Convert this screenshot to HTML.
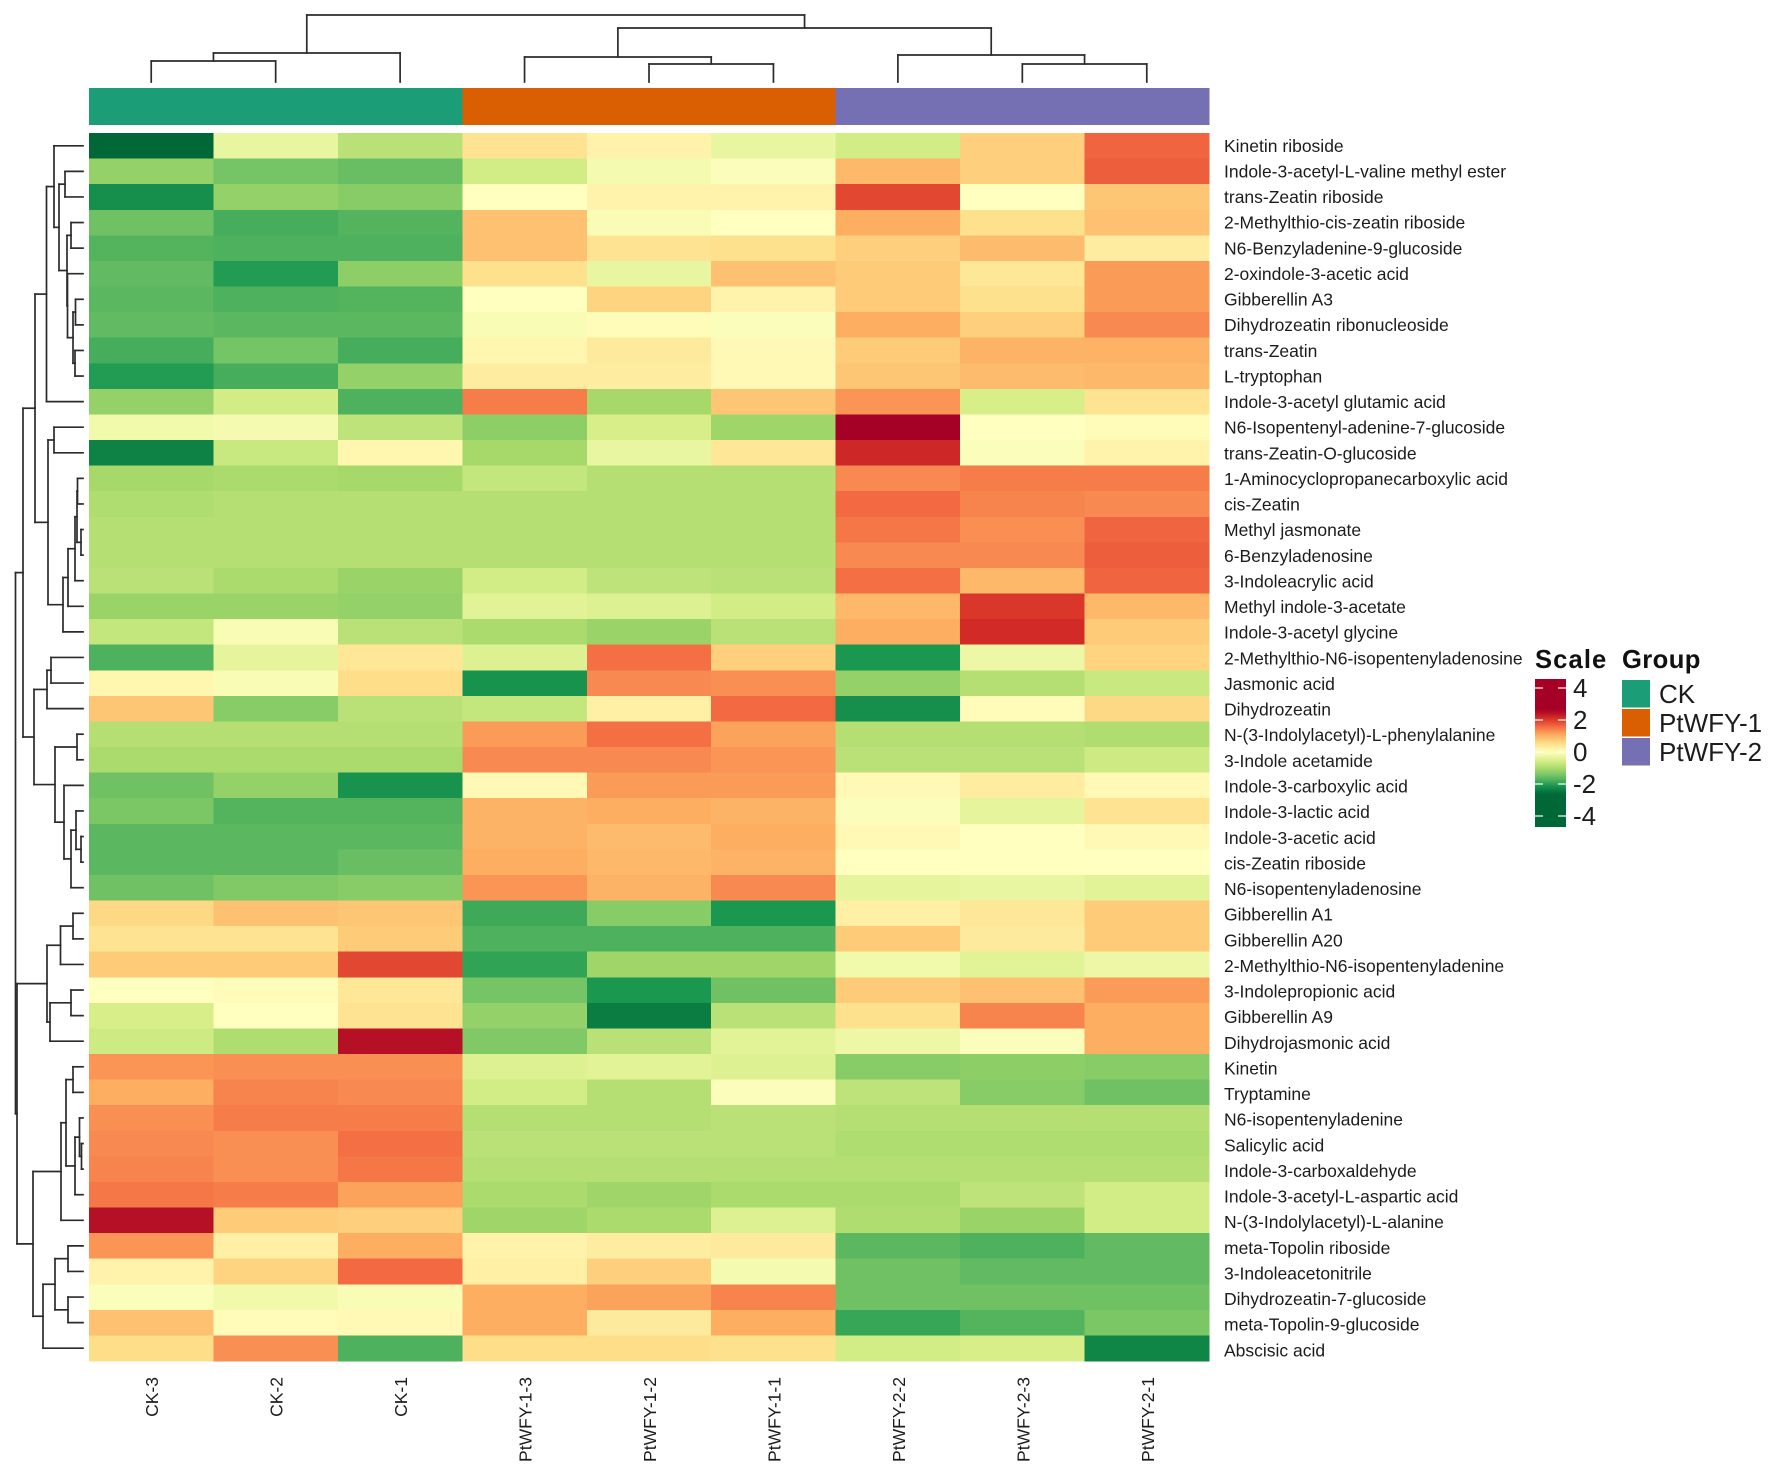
<!DOCTYPE html>
<html lang="en">
<head>
<meta charset="utf-8">
<title>Hormone metabolite clustered heatmap</title>
<style>
html,body{margin:0;padding:0;background:#fff;}
svg{display:block;font-family:"Liberation Sans",Arial,sans-serif;filter:blur(.3px);}
.cell-lab{font-size:17.5px;fill:#1c1c1c;}
.legend-title{font-size:25.6px;font-weight:700;fill:#111;}
.legend-text{font-size:26px;fill:#1c1c1c;}
</style>
</head>
<body>
<svg id="chart" xmlns="http://www.w3.org/2000/svg" width="1772" height="1474" viewBox="0 0 1772 1474">
  <rect x="0" y="0" width="1772" height="1474" fill="#ffffff"/>
  <g id="col-dendrogram"></g>
  <g id="row-dendrogram"></g>
  <g id="group-annotation"></g>
  <g id="heat-cells"></g>
  <g id="row-labels"></g>
  <g id="col-labels"></g>
  <g id="scale-legend">
    <text class="legend-title" x="1535" y="668" letter-spacing="1.1">Scale</text>
    <defs><linearGradient id="scale-gradient" x1="0" y1="0" x2="0" y2="1"></linearGradient></defs>
    <rect id="scale-bar" x="1535" y="679" width="31" height="148" fill="url(#scale-gradient)"/>
  </g>
  <g id="group-legend">
    <text class="legend-title" x="1622" y="668" letter-spacing=".4">Group</text>
  </g>
</svg>
<script>
// ---------- data ----------
const rowNames = ["Kinetin riboside","Indole-3-acetyl-L-valine methyl ester","trans-Zeatin riboside","2-Methylthio-cis-zeatin riboside","N6-Benzyladenine-9-glucoside","2-oxindole-3-acetic acid","Gibberellin A3","Dihydrozeatin ribonucleoside","trans-Zeatin","L-tryptophan","Indole-3-acetyl glutamic acid","N6-Isopentenyl-adenine-7-glucoside","trans-Zeatin-O-glucoside","1-Aminocyclopropanecarboxylic acid","cis-Zeatin","Methyl jasmonate","6-Benzyladenosine","3-Indoleacrylic acid","Methyl indole-3-acetate","Indole-3-acetyl glycine","2-Methylthio-N6-isopentenyladenosine","Jasmonic acid","Dihydrozeatin","N-(3-Indolylacetyl)-L-phenylalanine","3-Indole acetamide","Indole-3-carboxylic acid","Indole-3-lactic acid","Indole-3-acetic acid","cis-Zeatin riboside","N6-isopentenyladenosine","Gibberellin A1","Gibberellin A20","2-Methylthio-N6-isopentenyladenine","3-Indolepropionic acid","Gibberellin A9","Dihydrojasmonic acid","Kinetin","Tryptamine","N6-isopentenyladenine","Salicylic acid","Indole-3-carboxaldehyde","Indole-3-acetyl-L-aspartic acid","N-(3-Indolylacetyl)-L-alanine","meta-Topolin riboside","3-Indoleacetonitrile","Dihydrozeatin-7-glucoside","meta-Topolin-9-glucoside","Abscisic acid"];
const colNames = ["CK-3","CK-2","CK-1","PtWFY-1-3","PtWFY-1-2","PtWFY-1-1","PtWFY-2-2","PtWFY-2-3","PtWFY-2-1"];
const colGroups = ["CK","CK","CK","PtWFY-1","PtWFY-1","PtWFY-1","PtWFY-2","PtWFY-2","PtWFY-2"];
const groupNames = ["CK","PtWFY-1","PtWFY-2"];
const groupColors = ["#1b9e77","#d95f02","#7570b3"];
const scaleTicks = [4,2,0,-2,-4];
const heatValues = [
[-2.75,-.3,-.85,.45,.2,-.3,-.6,.7,1.65],
[-1.2,-1.45,-1.55,-.6,-.15,-.05,.95,.7,1.7],
[-2.2,-1.2,-1.3,0,.2,.2,1.9,0,.8],
[-1.5,-1.8,-1.7,.85,-.1,0,1.05,.5,.85],
[-1.7,-1.75,-1.75,.85,.45,.5,.7,.9,.3],
[-1.6,-2.05,-1.25,.5,-.3,.85,.75,.4,1.2],
[-1.65,-1.75,-1.7,0,.65,.2,.75,.5,1.2],
[-1.6,-1.65,-1.65,-.1,.05,-.05,1.05,.7,1.35],
[-1.8,-1.45,-1.8,.15,.35,.1,.75,1,1],
[-2.05,-1.8,-1.2,.3,.3,.1,.8,.9,.95],
[-1.2,-.6,-1.75,1.45,-1.05,.8,1.25,-.55,.45],
[-.2,-.15,-.8,-1.25,-.55,-1.1,2.75,0,.05],
[-2.35,-.7,.15,-1.05,-.3,.4,2.2,-.05,.2],
[-1.05,-1,-1.05,-.75,-.9,-.9,1.35,1.45,1.45],
[-.95,-.9,-.9,-.9,-.9,-.9,1.6,1.4,1.35],
[-.9,-.9,-.9,-.9,-.9,-.9,1.5,1.3,1.65],
[-.9,-.9,-.9,-.9,-.9,-.9,1.35,1.35,1.7],
[-.85,-1,-1.15,-.6,-.8,-.85,1.55,.95,1.65],
[-1.15,-1.15,-1.2,-.4,-.45,-.6,.95,2.05,.95],
[-.75,-.1,-.85,-1,-1.15,-.85,1.05,2.15,.75],
[-1.75,-.35,.4,-.45,1.55,.7,-2.1,-.25,.65],
[.15,-.1,.55,-2.15,1.35,1.3,-1.2,-.9,-.7],
[.8,-1.3,-.85,-.75,.25,1.6,-2.2,.05,.6],
[-.9,-.9,-.9,1.2,1.55,1.15,-.9,-.9,-.95],
[-1,-1,-1,1.35,1.35,1.25,-.85,-.85,-.65],
[-1.5,-1.2,-2.15,.1,1.2,1.2,.1,.3,.1],
[-1.4,-1.7,-1.7,1,1.05,1,-.05,-.35,.45],
[-1.65,-1.65,-1.65,1,.9,1.05,.1,0,.1],
[-1.65,-1.65,-1.55,1.05,.95,1,0,0,0],
[-1.5,-1.35,-1.3,1.25,1,1.35,-.35,-.3,-.4],
[.6,.85,.8,-1.85,-1.3,-2.1,.25,.4,.75],
[.45,.45,.75,-1.75,-1.75,-1.75,.75,.35,.75],
[.75,.75,1.9,-1.95,-1.1,-1.1,-.2,-.4,-.25],
[0,.05,.4,-1.45,-2.1,-1.5,.75,.85,1.2],
[-.55,0,.45,-1.2,-2.4,-.85,.5,1.4,1.05],
[-.65,-.95,2.45,-1.35,-.85,-.4,-.25,-.05,1.05],
[1.25,1.3,1.3,-.45,-.4,-.45,-1.3,-1.25,-1.3],
[1.05,1.4,1.35,-.6,-.9,-.05,-.8,-1.3,-1.5],
[1.3,1.45,1.45,-.9,-.9,-.85,-.9,-.9,-.9],
[1.35,1.3,1.55,-.85,-.85,-.85,-.95,-.95,-.95],
[1.4,1.3,1.5,-.9,-.9,-.9,-.9,-.9,-.9],
[1.5,1.45,1.15,-1,-1.1,-1,-1,-.8,-.6],
[2.45,.75,.7,-1.1,-1,-.45,-.95,-1.15,-.6],
[1.25,.25,1.05,.2,.3,.35,-1.65,-1.75,-1.6],
[.2,.65,1.6,.25,.7,-.15,-1.5,-1.6,-1.6],
[-.05,-.2,-.1,1.05,1.15,1.4,-1.5,-1.5,-1.5],
[.85,.05,.1,1.05,.35,1.05,-1.9,-1.7,-1.4],
[.55,1.3,-1.75,.55,.55,.5,-.6,-.55,-2.3]
];
// Trees: [mergeHeight, childA, childB]; a bare number is a leaf index.
const colTree = [67,[29,[21,0,1],2],[54,[25,3,[18,4,5]],[27,6,[18,7,8]]]];
const rowTree = [67.5,
  [60,
    [48,
      [36.5,[29,0,[24,[18,1,2],[16,[12,3,4],[15.5,5,[10,[7.5,6,7],[8,8,9]]]]]],10],
      [35,[29,11,12],[20,[15,[8,[6,[5.5,13,14],[2,15,16]],17],18],19]]
    ],
    [49,
      [36,[32,20,21],22],
      [28,[6,23,24],[19,25,[12,[7,26,[2,27,28]],29]]]
    ]
  ],
  [66,
    [36,[22.5,[10,30,31],32],[33,[12,33,34],35]],
    [50,
      [22,[17,[10,36,37],[8,[3.5,38,[1.5,39,40]],41]],42],
      [40,[28,[15,43,44],[15,45,46]],47]
    ]
  ]
];
// Colour stops of the palette, one every 0.525 units
const paletteStops = ["#006837","#1a9850","#66bd63","#a6d96a","#d9ef8b","#ffffbf","#fee08b","#fdae61","#f46d43","#d73027","#a50026"];

// ---------- layout & scales ----------
const NS = "http://www.w3.org/2000/svg";
const plot = {left: 89, right: 1209, top: 133, bottom: 1361};
const cellW = (plot.right - plot.left) / colNames.length;
const cellH = (plot.bottom - plot.top) / rowNames.length;
const xOf = i => plot.left + cellW * i;
const yOf = i => plot.top + cellH * i;
const colBaseY = 82;
const rowBaseX = 83;
const legendY = v => 752 - v * 16;

function hexToRgb(h){return [1,3,5].map(i=>parseInt(h.substr(i,2),16));}
function colorOf(v){
  const t = Math.max(0, Math.min(paletteStops.length - 1, (v + 2.625) / 0.525));
  const i = Math.min(paletteStops.length - 2, Math.floor(t));
  const a = hexToRgb(paletteStops[i]), b = hexToRgb(paletteStops[i + 1]), f = t - i;
  return "rgb(" + a.map((c,k)=>Math.round(c + (b[k] - c) * f)).join(",") + ")";
}
function svgEl(tag, attrs, parent){
  const el = document.createElementNS(NS, tag);
  for (const k in attrs) el.setAttribute(k, attrs[k]);
  parent.appendChild(el);
  return el;
}

// ---------- heatmap cells ----------
const cellsG = document.getElementById("heat-cells");
heatValues.forEach((row, r) => {
  row.forEach((v, c) => {
    const rect = svgEl("rect", {x: xOf(c), y: yOf(r), width: cellW + 0.5, height: cellH + 0.5, fill: colorOf(v), "shape-rendering": "crispEdges"}, cellsG);
    
    
  });
});

// ---------- group annotation ----------
const annG = document.getElementById("group-annotation");
colGroups.forEach((g, c) => {
  const rect = svgEl("rect", {x: xOf(c), y: 88, width: cellW + 0.5, height: 37, fill: groupColors[groupNames.indexOf(g)], "shape-rendering": "crispEdges"}, annG);
  
  
});

// ---------- labels ----------
const rowLabG = document.getElementById("row-labels");
rowNames.forEach((name, r) => {
  const t = svgEl("text", {class: "cell-lab", x: 1224, y: yOf(r + 0.5) + 6 + r * 0.045}, rowLabG);
  t.textContent = name;
  
  
});
const colLabG = document.getElementById("col-labels");
colNames.forEach((name, c) => {
  const cx = xOf(c + 0.5);
  const t = svgEl("text", {class: "cell-lab", x: 0, y: 0, "text-anchor": "end", transform: "translate(" + (cx + 7) + ",1377) rotate(-90)"}, colLabG);
  t.textContent = name;
  
  
});

// ---------- dendrograms ----------
function drawTree(node, posOf, seg, group){
  if (typeof node === "number") return {pos: posOf(node + 0.5), h: 0};
  const a = drawTree(node[1], posOf, seg, group);
  const b = drawTree(node[2], posOf, seg, group);
  const h = node[0];
  seg(a.pos, a.h, a.pos, h, group);
  seg(b.pos, b.h, b.pos, h, group);
  seg(a.pos, h, b.pos, h, group);
  return {pos: (a.pos + b.pos) / 2, h: h};
}
const lineStyle = {stroke: "#2b2b2b", "stroke-width": 1.7, "stroke-linecap": "square", fill: "none"};
function colSeg(p1, h1, p2, h2, g){
  const l = svgEl("line", Object.assign({x1: p1, y1: colBaseY - h1, x2: p2, y2: colBaseY - h2}, lineStyle), g);
  
  
}
function rowSeg(p1, h1, p2, h2, g){
  const l = svgEl("line", Object.assign({x1: rowBaseX - h1, y1: p1, x2: rowBaseX - h2, y2: p2}, lineStyle), g);
  
  
}
drawTree(colTree, xOf, colSeg, document.getElementById("col-dendrogram"));
drawTree(rowTree, yOf, rowSeg, document.getElementById("row-dendrogram"));

// ---------- scale legend ----------
const grad = document.getElementById("scale-gradient");
const barTop = 679, barBottom = 827;
for (let i = 0; i <= 40; i++) {
  const y = barTop + (barBottom - barTop) * i / 40;
  svgEl("stop", {offset: (i / 40), "stop-color": colorOf((752 - y) / 16)}, grad);
}
const scaleG = document.getElementById("scale-legend");
scaleTicks.forEach(v => {
  const y = legendY(v);
  const t1 = svgEl("line", {x1: 1535, x2: 1543, y1: y, y2: y, stroke: "#ffffff", "stroke-width": 1.4, opacity: .85}, scaleG);
  
  
  const t2 = svgEl("line", {x1: 1558, x2: 1566, y1: y, y2: y, stroke: "#ffffff", "stroke-width": 1.4, opacity: .85}, scaleG);
  
  
  const lab = svgEl("text", {class: "legend-text", x: 1573, y: y + 9}, scaleG);
  lab.textContent = String(v);
  
  
});

// ---------- group legend ----------
const groupG = document.getElementById("group-legend");
groupNames.forEach((g, i) => {
  const top = 680 + i * 29;
  const sw = svgEl("rect", {x: 1622, y: top, width: 28, height: 27.5, fill: groupColors[i]}, groupG);
  
  
  const lab = svgEl("text", {class: "legend-text", x: 1659, y: top + 23}, groupG);
  lab.textContent = g;
  
  
});
</script>
</body>
</html>
